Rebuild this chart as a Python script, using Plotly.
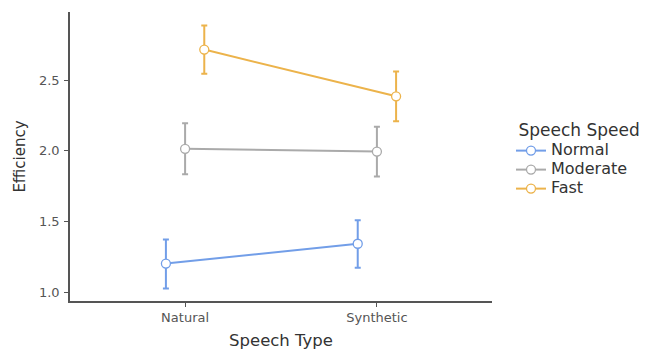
import plotly.graph_objects as go

categories = ["Natural", "Synthetic"]
speeds = ["Normal", "Moderate", "Fast"]
colors = ["#729EE8", "#AAAAAA", "#ECB34B"]
means = {
    "Normal": [1.205, 1.345],
    "Moderate": [2.015, 1.995],
    "Fast": [2.715, 2.385],
}
upper = {
    "Normal": [1.375, 1.51],
    "Moderate": [2.195, 2.17],
    "Fast": [2.885, 2.56],
}
lower = {
    "Normal": [1.03, 1.175],
    "Moderate": [1.835, 1.82],
    "Fast": [2.545, 2.21],
}
dodge = {"Normal": -0.1, "Moderate": 0.0, "Fast": 0.1}

FONT = "DejaVu Sans, Liberation Sans, Arial, sans-serif"

fig = go.Figure()
for sp, col in zip(speeds, colors):
    xs = [i + 1 + dodge[sp] for i in range(len(categories))]
    m = means[sp]
    ep = [u - v for u, v in zip(upper[sp], m)]
    em = [v - l for v, l in zip(m, lower[sp])]
    fig.add_trace(go.Scatter(
        x=xs, y=m, mode="lines+markers",
        name='<span style="font-size:16px">%s</span>' % sp,
        line=dict(color=col, width=2),
        marker=dict(size=9, color="white", line=dict(color=col, width=1.3)),
        error_y=dict(type="data", symmetric=False, array=ep, arrayminus=em,
                     color=col, thickness=2, width=3),
    ))

fig.update_layout(
    width=645, height=350,
    margin=dict(l=70, r=153, t=12, b=49, autoexpand=False),
    paper_bgcolor="white", plot_bgcolor="white",
    font=dict(family=FONT, color="#333333"),
    legend=dict(
        title=dict(text='<span style="font-size:17px">&nbsp;Speech Speed</span>',
                   font=dict(size=27, color="#333333")),
        font=dict(size=11, color="#333333"),
        x=1.045, xanchor="left", y=0.692, yanchor="top",
        tracegroupgap=0, itemwidth=30,
    ),
    xaxis=dict(
        range=[0.4, 2.6], tickvals=[1, 2], ticktext=categories,
        showline=True, linecolor="#555555", linewidth=1.5,
        ticks="outside", ticklen=4, tickcolor="#555555",
        showgrid=False, zeroline=False, ticklabelstandoff=0, automargin=False,
        tickfont=dict(size=13, color="#555555"),
        title=dict(text="Speech Type", font=dict(size=16.5, color="#333333"), standoff=16),
    ),
    yaxis=dict(
        range=[0.941, 2.98], tickvals=[1.0, 1.5, 2.0, 2.5],
        ticktext=["1.0", "1.5", "2.0", "2.5"],
        showline=True, linecolor="#555555", linewidth=1.5,
        ticks="outside", ticklen=4, tickcolor="#555555",
        showgrid=False, zeroline=False, ticklabelstandoff=2, automargin=False,
        tickfont=dict(size=13, color="#555555"),
        title=dict(text="Efficiency", font=dict(size=15, color="#333333"), standoff=10),
    ),
)
fig.write_html("out.html")
